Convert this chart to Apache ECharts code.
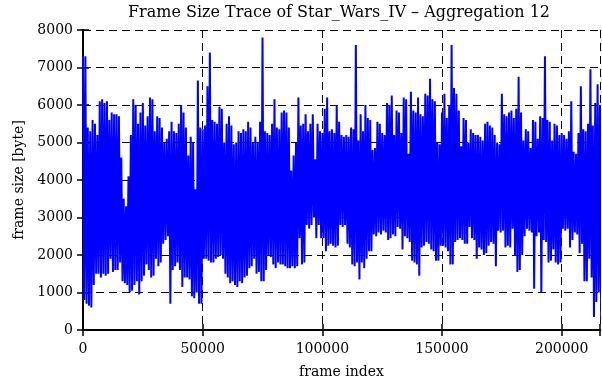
<!DOCTYPE html>
<html>
<head>
<meta charset="utf-8">
<title>Frame Size Trace</title>
<script src="https://cdn.jsdelivr.net/npm/echarts@6/dist/echarts.min.js"></script>
<style>
  html, body { margin: 0; padding: 0; background: #fff; }
  #chart { width: 602px; height: 380px; }
</style>
</head>
<body>
<div id="chart"></div>
<script>
// trace: upper / lower envelope per 1000 frames
var stepFrames = 1000;
var frameHi = [
  7300,7300,5400,5300,5600,5500,5200,6100,6150,6050,
  6100,5600,5800,5750,5750,5700,4600,3500,3300,4100,
  5200,6150,6000,5500,5800,6050,5450,5700,6200,6150,
  5300,5700,5650,5400,5000,5100,5300,5550,5300,5250,
  5500,6000,5800,5400,4650,5150,5000,3750,6650,5400,
  5350,5450,6500,7400,5600,5550,5500,5950,5900,5000,
  5500,5700,5450,4950,5000,5300,5250,5350,5300,5550,
  5400,5000,5150,5000,5550,7800,5300,5250,5200,5500,
  6150,5400,5350,5800,5850,5800,5400,4250,4650,5000,
  6200,5450,5500,5750,5300,5500,5750,4550,5500,5300,
  5250,5900,6200,5300,5350,5250,6000,5550,5200,5150,
  5200,5150,5400,5350,7600,5050,5750,5300,6000,5650,
  5600,4800,4850,5550,5500,5250,5200,6050,6000,6250,
  5200,5850,5800,5250,6200,6150,4700,6350,5850,5800,
  6200,5750,5700,6300,6250,6700,6150,6100,5000,4950,
  5800,6300,5650,6000,7600,6450,6300,5850,4900,5650,
  5600,5000,5350,5250,5200,5200,5150,5050,5500,5550,
  5450,5400,5200,5000,4950,6300,5750,5700,5800,5850,
  5650,5900,6750,5800,5050,5350,5300,4850,5600,5550,
  5100,5700,5650,7300,5600,5550,5050,5500,5450,5200,
  5250,5200,5100,5300,6100,4750,4700,5250,6500,5350,
  5300,5500,6950,5450,6050,6550,6000
];
var frameLo = [
  800,700,650,600,1200,1500,1500,1400,1500,1450,
  1500,1900,1550,1600,1600,1800,1300,1250,1200,1000,
  1050,1200,1300,950,1300,1450,1750,1600,1400,1450,
  1900,1700,1800,2300,2400,2500,700,1600,1700,1800,
  1600,1150,1400,1400,1350,900,850,1000,700,700,
  1900,1900,1850,1800,1800,1900,1950,2000,1900,1500,
  1400,1250,1300,1200,1150,1300,1250,1400,1450,1650,
  1700,1900,1500,1550,1300,1300,1600,2000,1950,1750,
  1650,1800,1750,1750,1700,1650,1650,1700,1650,1700,
  2450,1750,1800,2800,2700,2800,3000,2450,2800,2450,
  2450,2100,2250,2300,2250,2200,2250,2800,2750,2800,
  2300,2200,1750,1700,1800,1350,1800,1650,1900,2100,
  2100,2550,2500,2600,2550,2650,2600,2400,2450,2550,
  2500,2750,2700,2150,2500,2450,2350,1850,1800,1750,
  1450,2200,2250,2350,2300,2150,2100,1850,1850,2250,
  2250,2200,2100,1750,1750,2350,2400,2450,2400,2300,
  2300,2750,2450,2400,1900,2200,2150,2000,2050,2250,
  2350,2300,1700,2650,2600,2650,2200,2250,2200,2700,
  2000,1550,1600,2000,2500,2700,2650,2600,1100,2500,
  2600,1000,2400,2350,1800,1850,2150,1800,1750,1800,
  2700,2650,2700,2200,2400,2600,2550,2050,2300,1300,
  1300,1900,1400,350,750,1000,200
];
var xTicks = [0, 50000, 100000, 150000, 200000];
var yTicks = [0, 1000, 2000, 3000, 4000, 5000, 6000, 7000, 8000];

var serif = "'DejaVu Serif', 'Liberation Serif', serif";

// zigzag between the two envelopes
var traceData = [];
for (var i = 0; i < frameHi.length; i++) {
  traceData.push([i * stepFrames, frameHi[i]]);
  traceData.push([i * stepFrames + stepFrames / 2, frameLo[i]]);
}

var dashLine = { show: true, lineStyle: { color: '#000', type: [8, 5], width: 1 } };
var tickIn = { show: true, inside: true, length: 6, lineStyle: { color: '#000', width: 1.5 } };

window.onload = function(){
  var myChart = echarts.init(document.getElementById('chart'));
  myChart.setOption({
    animation: false,
    backgroundColor: '#fff',
    title: {
      text: 'Frame Size Trace of Star_Wars_IV \u2013 Aggregation 12',
      left: 123,
      top: 0,
      textStyle: { fontFamily: serif, fontSize: 16, fontWeight: 'normal', color: '#000' }
    },
    grid: { left: 83, right: 2, top: 30, bottom: 50, containLabel: false, outerBoundsMode: 'none' },
    xAxis: [{
      type: 'value',
      min: 0,
      max: 216000,
      interval: 50000,
      name: 'frame index',
      nameLocation: 'middle',
      nameGap: 35,
      nameTextStyle: { fontFamily: serif, fontSize: 14, color: '#000' },
      axisLine: { show: true, onZero: false, lineStyle: { color: '#000', width: 2 } },
      axisTick: tickIn,
      axisLabel: {
        fontFamily: serif, fontSize: 14, color: '#000', margin: 12,
        formatter: function(v){ return xTicks.indexOf(v) >= 0 ? String(v) : ''; }
      },
      splitLine: dashLine
    }, {
      type: 'value',
      position: 'top',
      min: 0,
      max: 216000,
      interval: 50000,
      axisLine: { show: true, lineStyle: { color: '#000', width: 2 } },
      axisTick: tickIn,
      axisLabel: { show: false },
      splitLine: { show: false }
    }],
    yAxis: [{
      type: 'value',
      min: 0,
      max: 8000,
      interval: 1000,
      name: 'frame size [byte]',
      nameLocation: 'middle',
      nameGap: 51,
      nameTextStyle: { fontFamily: serif, fontSize: 14, color: '#000' },
      axisLine: { show: true, onZero: false, lineStyle: { color: '#000', width: 2 } },
      axisTick: tickIn,
      axisLabel: {
        fontFamily: serif, fontSize: 14, color: '#000', margin: 10,
        formatter: function(v){ return yTicks.indexOf(v) >= 0 ? String(v) : ''; }
      },
      splitLine: dashLine
    }, {
      type: 'value',
      position: 'right',
      min: 0,
      max: 8000,
      interval: 1000,
      axisLine: { show: true, lineStyle: { color: '#000', width: 2 } },
      axisTick: tickIn,
      axisLabel: { show: false },
      splitLine: { show: false }
    }],
    series: [{
      type: 'line',
      data: traceData,
      xAxisIndex: 0,
      yAxisIndex: 0,
      showSymbol: false,
      sampling: null,
      lineStyle: { color: '#0000ff', width: 2 },
      z: 1
    }]
  });
};
</script>
</body>
</html>
